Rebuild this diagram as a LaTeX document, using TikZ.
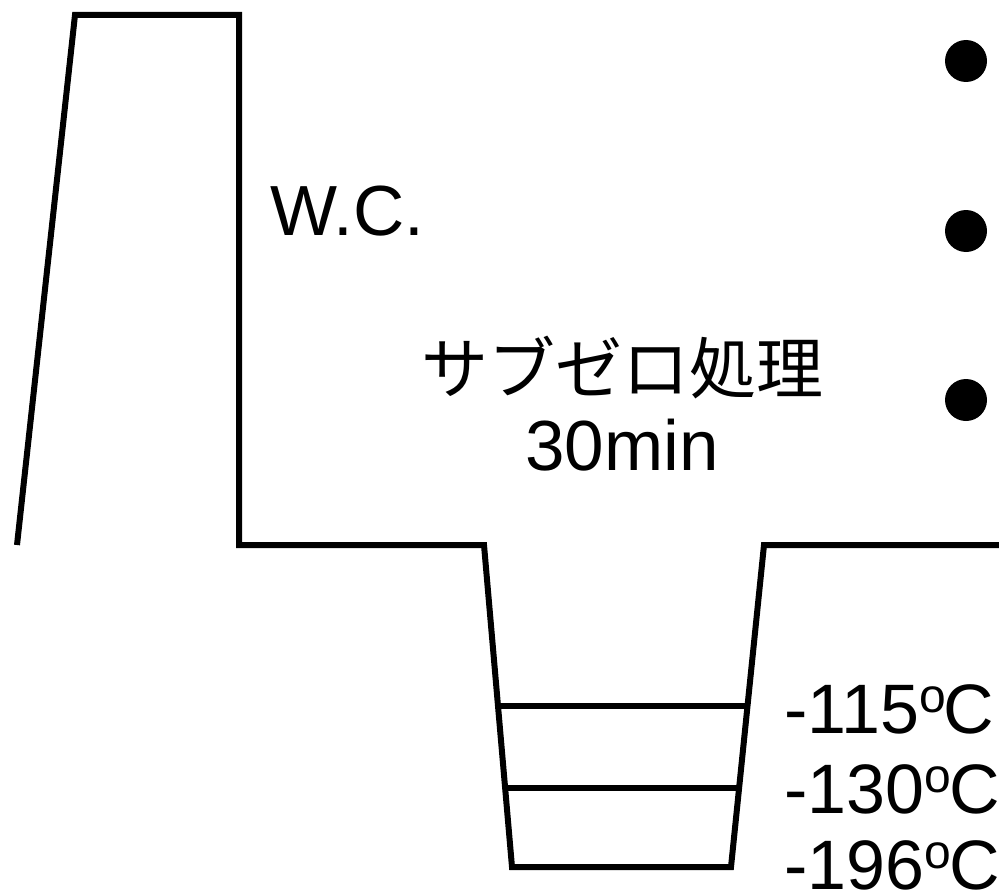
\documentclass[tikz,border=0pt]{standalone}
\usepackage{fontspec}
\setmainfont{Liberation Sans}
\newfontfamily\cjk{Noto Sans CJK JP}
\usetikzlibrary{calc}
\newcommand{\degsup}{{\fontsize{48}{48}\selectfont\raisebox{21pt}{o}}\kern-2pt}
\begin{document}
\begin{tikzpicture}[x=1pt,y=-1pt,
  prof/.style={line width=6pt,line join=miter},
  dotnode/.style={circle,fill=black,inner sep=0pt,minimum size=42pt},
  lbl/.style={inner sep=0pt,font=\fontsize{71}{74}\selectfont},
  tlbl/.style={inner sep=0pt,anchor=base west,font=\fontsize{70}{72}\selectfont}]
\useasboundingbox (0,0) rectangle (999,891);
\coordinate (s) at (17,545);
\coordinate (t1) at (75,15);
\coordinate (t2) at (239,15);
\coordinate (d1) at (239,545);
\coordinate (d2) at (484,545);
\coordinate (b1) at (512,867);
\coordinate (b2) at (731,867);
\coordinate (u1) at (764,545);
\coordinate (e) at (999,545);
\draw[prof] (s) -- (t1) -- (t2) -- (d1) -- (d2) -- (b1) -- (b2) -- (u1) -- (e);
\coordinate (l1) at ($(d2)!0.5!(b1)$);
\coordinate (r1) at ($(u1)!0.5!(b2)$);
\coordinate (l2) at ($(d2)!0.7547!(b1)$);
\coordinate (r2) at ($(u1)!0.7547!(b2)$);
\draw[prof] (l1) -- (r1);
\draw[prof] (l2) -- (r2);
\node[dotnode] (p1) at (966,61) {};
\node[dotnode] (p2) at (966,231) {};
\node[dotnode] (p3) at (966,400) {};
\node[lbl,anchor=base west] (wc) at (270,235) {W.C.};
\node[lbl,anchor=base west,font=\fontsize{67}{70}\selectfont] (sz) at (421,393) {\cjk サブゼロ処理};
\node[lbl,anchor=base] (tm) at (622,470) {30min};
\node[tlbl] (t115) at (784,733) {-115\degsup C};
\node[tlbl] (t130) at (784,813) {-130\degsup C};
\node[tlbl] (t196) at (784,889) {-196\degsup C};
\end{tikzpicture}
\end{document}
